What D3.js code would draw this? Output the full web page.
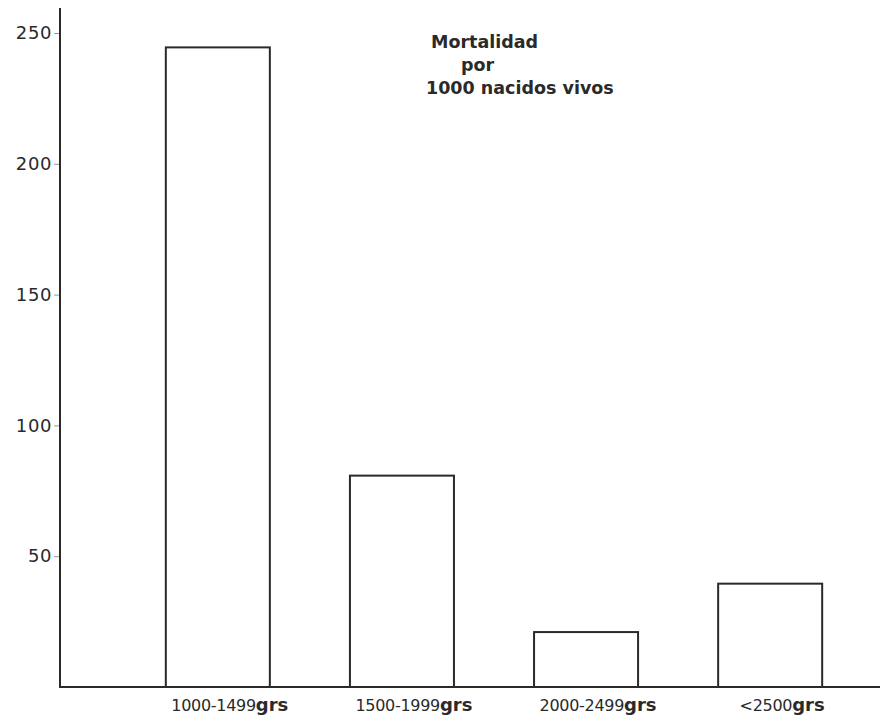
<!DOCTYPE html>
<html>
<head>
<meta charset="utf-8">
<script src="https://cdn.jsdelivr.net/npm/d3@7"></script>
<style>
  body { margin: 0; background: #fff; }
  text { font-family: "DejaVu Sans", Arial, sans-serif; fill: #2a2a2a; }
</style>
</head>
<body>
<svg id="chart" width="880" height="723"></svg>
<script>
// values
const categories = ['1000-1499', '1500-1999', '2000-2499', '<2500'];
const mortalidad = [244.5, 80.8, 21, 39.5];
const yTicks = [50, 100, 150, 200, 250];
const titleLines = ['Mortalidad', 'por', '1000 nacidos vivos'];

const svg = d3.select('#chart');
const width = +svg.attr('width');

const x0 = 60, yBase = 687;

const x = d3.scaleBand()
  .domain(categories)
  .range([129, 859])
  .paddingInner(0.435)
  .paddingOuter(0.2);

const y = d3.scaleLinear()
  .domain([0, 250])
  .range([yBase, 33]);

// y axis
const yAxis = d3.axisLeft(y).tickValues(yTicks).tickSize(6).tickPadding(2);
const gy = svg.append('g').attr('transform', `translate(${x0},0)`).call(yAxis);
gy.select('.domain').remove();
gy.selectAll('.tick line').attr('stroke', '#999').attr('stroke-width', 1);
gy.selectAll('.tick text')
  .attr('font-size', 18)
  .attr('letter-spacing', 0.6)
  .attr('fill', '#333')
  .style('font-family', '"DejaVu Sans", Arial, sans-serif');

svg.append('line')
  .attr('x1', x0).attr('x2', x0)
  .attr('y1', 8).attr('y2', yBase)
  .attr('stroke', '#2a2a2a').attr('stroke-width', 2);

// bars (open rectangles)
svg.append('g').selectAll('rect')
  .data(mortalidad)
  .join('rect')
  .attr('x', (d, i) => x(categories[i]))
  .attr('y', d => y(d))
  .attr('width', x.bandwidth())
  .attr('height', d => yBase - y(d))
  .attr('fill', 'none')
  .attr('stroke', '#2a2a2a')
  .attr('stroke-width', 2);

// baseline
svg.append('line')
  .attr('x1', x0 - 1).attr('x2', width)
  .attr('y1', yBase).attr('y2', yBase)
  .attr('stroke', '#2a2a2a').attr('stroke-width', 2);

// category labels
const lab = svg.append('g').selectAll('text')
  .data(categories)
  .join('text')
  .attr('x', d => x(d) + x.bandwidth() / 2 + 12)
  .attr('y', 711)
  .attr('text-anchor', 'middle');
lab.append('tspan').attr('font-size', 16).attr('letter-spacing', -0.3).text(d => d);
lab.append('tspan').attr('font-size', 18).attr('font-weight', 'bold').text('grs');

// title
const tx = [431, 461, 426];
const ty = [48, 71, 94];
svg.append('g').selectAll('text')
  .data(titleLines)
  .join('text')
  .attr('x', (d, i) => tx[i])
  .attr('y', (d, i) => ty[i])
  .attr('font-size', 17.5)
  .attr('font-weight', 'bold')
  .text(d => d);
</script>
</body>
</html>
